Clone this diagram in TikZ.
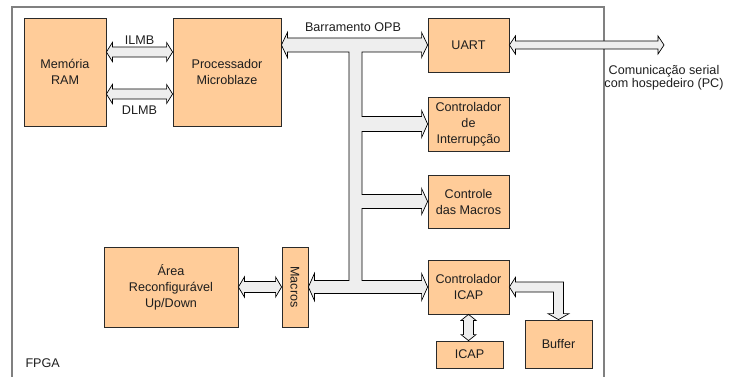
\documentclass[tikz,border=0pt]{standalone}
\usepackage{fontspec}
\setmainfont{Liberation Sans}
\usepackage{graphicx}
\usetikzlibrary{calc}
\definecolor{cBoxF}{HTML}{FFCC99}
\definecolor{cBoxL}{HTML}{2A2A2A}
\definecolor{cBusF}{HTML}{EEEEEE}
\definecolor{cFrame}{HTML}{808080}
\definecolor{cTxt}{HTML}{1E1E1E}
% horizontal block arrow with two heads: left tip, right tip, shaft half, head half
\newcommand{\hdarr}[4]{%
  \draw[blk] let \p1=(#1), \p2=(#2) in
    (\x1,\y1) -- (\x1+6pt,\y1+#4) -- (\x1+6pt,\y1+#3) -- (\x2-6pt,\y2+#3)
    -- (\x2-6pt,\y2+#4) -- (\x2,\y2) -- (\x2-6pt,\y2-#4) -- (\x2-6pt,\y2-#3)
    -- (\x1+6pt,\y1-#3) -- (\x1+6pt,\y1-#4) -- cycle;}
% vertical block arrow with two heads: top tip, bottom tip, shaft half, head half
\newcommand{\vdarr}[4]{%
  \draw[blk] let \p1=(#1), \p2=(#2) in
    (\x1,\y1) -- (\x1+#4,\y1-6pt) -- (\x1+#3,\y1-6pt) -- (\x2+#3,\y2+6pt)
    -- (\x2+#4,\y2+6pt) -- (\x2,\y2) -- (\x2-#4,\y2+6pt) -- (\x2-#3,\y2+6pt)
    -- (\x1-#3,\y1-6pt) -- (\x1-#4,\y1-6pt) -- cycle;}

\begin{document}
\begin{tikzpicture}[x=1pt,y=-1pt,
  box/.style={draw=cBoxL,fill=cBoxF,line width=0.8pt,align=center,inner sep=0pt,
    text=cTxt,font=\fontsize{12.6}{16}\selectfont},
  lbl/.style={align=center,text=cTxt,font=\fontsize{12.6}{13.5}\selectfont},
  blk/.style={draw=black,fill=cBusF,line width=0.7pt,line join=miter}]

  \useasboundingbox (0,0) rectangle (730,377);

  % FPGA frame
  \draw[cFrame,line width=1.3pt] (12,377) -- (12,7) -- (604,7) -- (604,377);
  \node[lbl,anchor=west] (fpga) at (22,363) {FPGA};

  \node[box,minimum width=82pt,minimum height=108pt] (ram) at (65,72) {Memória\\RAM};
  \node[box,minimum width=108pt,minimum height=108pt] (cpu) at (227,72) {Processador\\Microblaze};
  \node[box,minimum width=81pt,minimum height=54pt] (uart) at (468.5,45) {UART};
  \node[box,minimum width=81pt,minimum height=54pt] (intc) at (468.5,124) {Controlador\\de\\Interrupção};
  \node[box,minimum width=81pt,minimum height=53pt] (mctl) at (468.5,201.5) {Controle\\das Macros};
  \node[box,minimum width=81pt,minimum height=54pt] (icapc) at (468.5,287) {Controlador\\ICAP};
  \node[box,minimum width=67pt,minimum height=27pt] (icap) at (469.5,354.5) {ICAP};
  \node[box,minimum width=67pt,minimum height=48pt] (buf) at (558.5,344) {Buffer};
  \node[box,minimum width=26pt,minimum height=80pt] (macros) at (295,287) {\rotatebox{-90}{Macros}};
  \node[box,minimum width=134pt,minimum height=80pt] (area) at (171,287) {Área\\Reconfigurável\\Up/Down};

  \coordinate (stem) at (355.5,45);
  \coordinate (pc) at (664,45);

  % OPB bus
  \draw[blk] let \p1=(cpu.east |- uart.west), \p2=(uart.west), \p3=(intc.west),
      \p4=(mctl.west), \p5=(macros.east), \p6=(icapc.west), \p7=(stem) in
    (\x1,\y1) -- (\x1+6pt,\y1+12.5pt) -- (\x1+6pt,\y1+7pt) -- (\x2-6pt,\y2+7pt)
    -- (\x2-6pt,\y2+12.5pt) -- (\x2,\y2) -- (\x2-6pt,\y2-12.5pt) -- (\x2-6pt,\y2-7pt)
    -- (\x7+6.5pt,\y2-7pt)
    -- (\x7+6.5pt,\y3+7.5pt) -- (\x3-6pt,\y3+7.5pt) -- (\x3-6pt,\y3+13.5pt) -- (\x3,\y3)
    -- (\x3-6pt,\y3-13.5pt) -- (\x3-6pt,\y3-7.5pt) -- (\x7+6.5pt,\y3-7.5pt)
    -- (\x7+6.5pt,\y4+7pt) -- (\x4-6pt,\y4+7pt) -- (\x4-6pt,\y4+13pt) -- (\x4,\y4)
    -- (\x4-6pt,\y4-13pt) -- (\x4-6pt,\y4-7pt) -- (\x7+6.5pt,\y4-7pt)
    -- (\x7+6.5pt,\y6+6.5pt) -- (\x6-6pt,\y6+6.5pt) -- (\x6-6pt,\y6+13.5pt) -- (\x6,\y6)
    -- (\x6-6pt,\y6-13.5pt) -- (\x6-6pt,\y6-6.5pt) -- (\x5+6pt,\y5-6.5pt)
    -- (\x5+6pt,\y5-13.5pt) -- (\x5,\y5) -- (\x5+6pt,\y5+13.5pt) -- (\x5+6pt,\y5+6.5pt)
    -- (\x7-6.5pt,\y5+6.5pt) -- (\x7-6.5pt,\y1-7pt) -- (\x1+6pt,\y1-7pt)
    -- (\x1+6pt,\y1-12.5pt) -- cycle;
  \node[lbl] (opb) at (353,27) {Barramento OPB};

  % local memory buses
  \hdarr{[yshift=20pt]ram.east}{[yshift=20pt]cpu.west}{5pt}{9.5pt}
  \hdarr{[yshift=-22pt]ram.east}{[yshift=-22pt]cpu.west}{5pt}{9.5pt}
  \node[lbl] (ilmb) at (139.5,40) {ILMB};
  \node[lbl] (dlmb) at (139.5,110) {DLMB};

  \hdarr{uart.east}{pc}{4pt}{9pt}
  \node[lbl] (serial) at (664,77.5) {Comunicação serial\\com hospedeiro (PC)};

  \hdarr{area.east}{macros.west}{5.5pt}{10pt}
  \vdarr{icapc.south}{icapc.south |- icap.north}{5pt}{7.5pt}

  % ICAP controller <-> buffer
  \draw[blk] let \p1=(icapc.east), \p2=(buf.north) in
    (\x1,\y1) -- (\x1+6pt,\y1+9.5pt) -- (\x1+6pt,\y1+5pt) -- (\x2+5pt,\y1+5pt)
    -- (\x2+5pt,\y2+6pt) -- (\x2+10.5pt,\y2+6pt) -- (\x2,\y2) -- (\x2-10.5pt,\y2+6pt)
    -- (\x2-5pt,\y2+6pt) -- (\x2-5pt,\y1-5pt) -- (\x1+6pt,\y1-5pt)
    -- (\x1+6pt,\y1-9.5pt) -- cycle;
\end{tikzpicture}
\end{document}
